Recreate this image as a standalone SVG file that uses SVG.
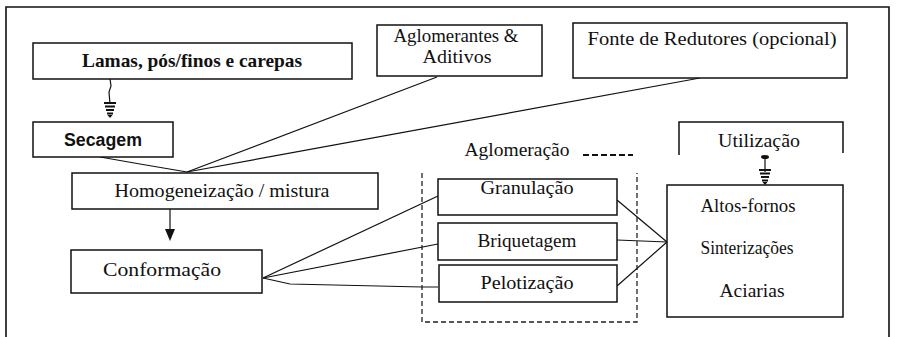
<svg xmlns="http://www.w3.org/2000/svg" width="898" height="337" viewBox="0 0 898 337">
  <defs>
    <style>
      .box { fill: #ffffff; stroke: #111111; stroke-width: 1.5; }
      .open { fill: none; stroke: #111111; stroke-width: 1.5; }
      .wire { fill: none; stroke: #111111; stroke-width: 1.2; }
      .frame { fill: none; stroke: #111111; stroke-width: 1.6; }
      .group { fill: none; stroke: #222222; stroke-width: 1.3; stroke-dasharray: 5 3; }
      .t { font-family: "Liberation Serif", "Times New Roman", serif; font-size: 19px; fill: #111111; text-anchor: middle; }
      .tb { font-family: "Liberation Serif", "Times New Roman", serif; font-size: 19px; font-weight: bold; fill: #111111; text-anchor: middle; }
      .ts { font-family: "Liberation Sans", Arial, sans-serif; font-size: 17.5px; font-weight: bold; fill: #111111; text-anchor: middle; }
    </style>
    <!-- striped "ground" style arrow tip, tip at (0,0) pointing down -->
    <g id="tip-striped">
      <path d="M-6,-15 H6 M-5,-11.5 H5 M-4,-8 H4 M-3,-4.5 H3" stroke="#111111" stroke-width="2.2" fill="none"/>
      <path d="M-2.5,-3 L2.5,-3 L0,0 Z" fill="#111111"/>
    </g>
    <!-- solid arrow tip, tip at (0,0) pointing down -->
    <g id="tip-solid">
      <path d="M-5,-12 L5,-12 L0,0 Z" fill="#111111"/>
    </g>
  </defs>

  <rect width="898" height="337" fill="#ffffff"/>

  <!-- outer frame (open at the bottom) -->
  <path class="frame" d="M6,337 V7 H889 V337"/>

  <!-- connectors -->
  <g id="connectors">
    <!-- Lamas -> Secagem -->
    <path class="wire" d="M110,79 L111,86 L109,92 L110,104"/>
    <use href="#tip-striped" x="110" y="118"/>
    <!-- inputs into Homogeneizacao -->
    <path class="wire" d="M100,157 L140,164 L187,172"/>
    <path class="wire" d="M437,77 L187,172" stroke-width="1.5"/>
    <path class="wire" d="M700,78 L187,172" stroke-width="1.5"/>
    <!-- Homogeneizacao -> Conformacao -->
    <path class="wire" d="M170,209 V232"/>
    <use href="#tip-solid" x="170" y="241"/>
    <!-- Conformacao -> agglomeration routes -->
    <path class="wire" d="M263,278 L438,196"/>
    <path class="wire" d="M263,278 L438,244"/>
    <path class="wire" d="M263,278 L290,284 L422,287 L438,287"/>
    <!-- routes -> destinations -->
    <path class="wire" d="M617,200 L667,242"/>
    <path class="wire" d="M617,240 L667,242"/>
    <path class="wire" d="M617,286 L667,242"/>
    <!-- Utilizacao -> destinations box -->
    <ellipse cx="765" cy="157" rx="4" ry="2" fill="#111111"/>
    <path class="wire" d="M765,157 V172"/>
    <use href="#tip-striped" x="765" y="185"/>
  </g>

  <!-- Aglomeracao grouping -->
  <g id="aglomeracao">
    <path class="group" d="M422,173 V322 H637 V173"/>
    <text class="t" x="517" y="156" textLength="105" lengthAdjust="spacingAndGlyphs">Aglomeração</text>
    <path d="M583,155 H633" stroke="#111111" stroke-width="2" stroke-dasharray="6 3" fill="none"/>
  </g>

  <g id="lamas">
    <rect class="box" x="33" y="43" width="319" height="36"/>
    <text class="tb" x="192" y="67" textLength="220" lengthAdjust="spacingAndGlyphs">Lamas, pós/finos e carepas</text>
  </g>

  <g id="secagem">
    <rect class="box" x="33" y="122" width="140" height="35"/>
    <text class="ts" x="103" y="146" textLength="78" lengthAdjust="spacingAndGlyphs">Secagem</text>
  </g>

  <g id="aglomerantes">
    <rect class="box" x="377" y="25" width="165" height="51"/>
    <text class="t" x="456" y="42" textLength="125" lengthAdjust="spacingAndGlyphs">Aglomerantes &amp;</text>
    <text class="t" x="457" y="63" textLength="69" lengthAdjust="spacingAndGlyphs">Aditivos</text>
  </g>

  <g id="fonte">
    <rect class="box" x="573" y="23" width="274" height="55"/>
    <text class="t" x="712" y="45" textLength="249" lengthAdjust="spacingAndGlyphs">Fonte de Redutores (opcional)</text>
  </g>

  <g id="homogeneizacao">
    <rect class="box" x="72" y="173" width="306" height="36"/>
    <text class="t" x="222" y="197" textLength="215" lengthAdjust="spacingAndGlyphs">Homogeneização / mistura</text>
  </g>

  <g id="conformacao">
    <rect class="box" x="71" y="250" width="191" height="43"/>
    <text class="t" x="162" y="276" textLength="118" lengthAdjust="spacingAndGlyphs">Conformação</text>
  </g>

  <g id="granulacao">
    <rect class="box" x="438" y="179" width="179" height="36"/>
    <text class="t" x="527" y="194" textLength="93" lengthAdjust="spacingAndGlyphs">Granulação</text>
  </g>

  <g id="briquetagem">
    <rect class="box" x="438" y="223" width="179" height="37"/>
    <text class="t" x="527" y="247" textLength="99" lengthAdjust="spacingAndGlyphs">Briquetagem</text>
  </g>

  <g id="pelotizacao">
    <rect class="box" x="439" y="265" width="178" height="37"/>
    <text class="t" x="527" y="289" textLength="93" lengthAdjust="spacingAndGlyphs">Pelotização</text>
  </g>

  <g id="utilizacao">
    <path class="open" d="M679,155 V122 H843 V153"/>
    <text class="t" x="759" y="147" textLength="82" lengthAdjust="spacingAndGlyphs">Utilização</text>
  </g>

  <g id="destinos">
    <rect class="box" x="667" y="185" width="176" height="132"/>
    <text class="t" x="748" y="212" textLength="95" lengthAdjust="spacingAndGlyphs">Altos-fornos</text>
    <text class="t" x="747" y="254" textLength="93" lengthAdjust="spacingAndGlyphs">Sinterizações</text>
    <text class="t" x="752" y="297" textLength="65" lengthAdjust="spacingAndGlyphs">Aciarias</text>
  </g>
</svg>
